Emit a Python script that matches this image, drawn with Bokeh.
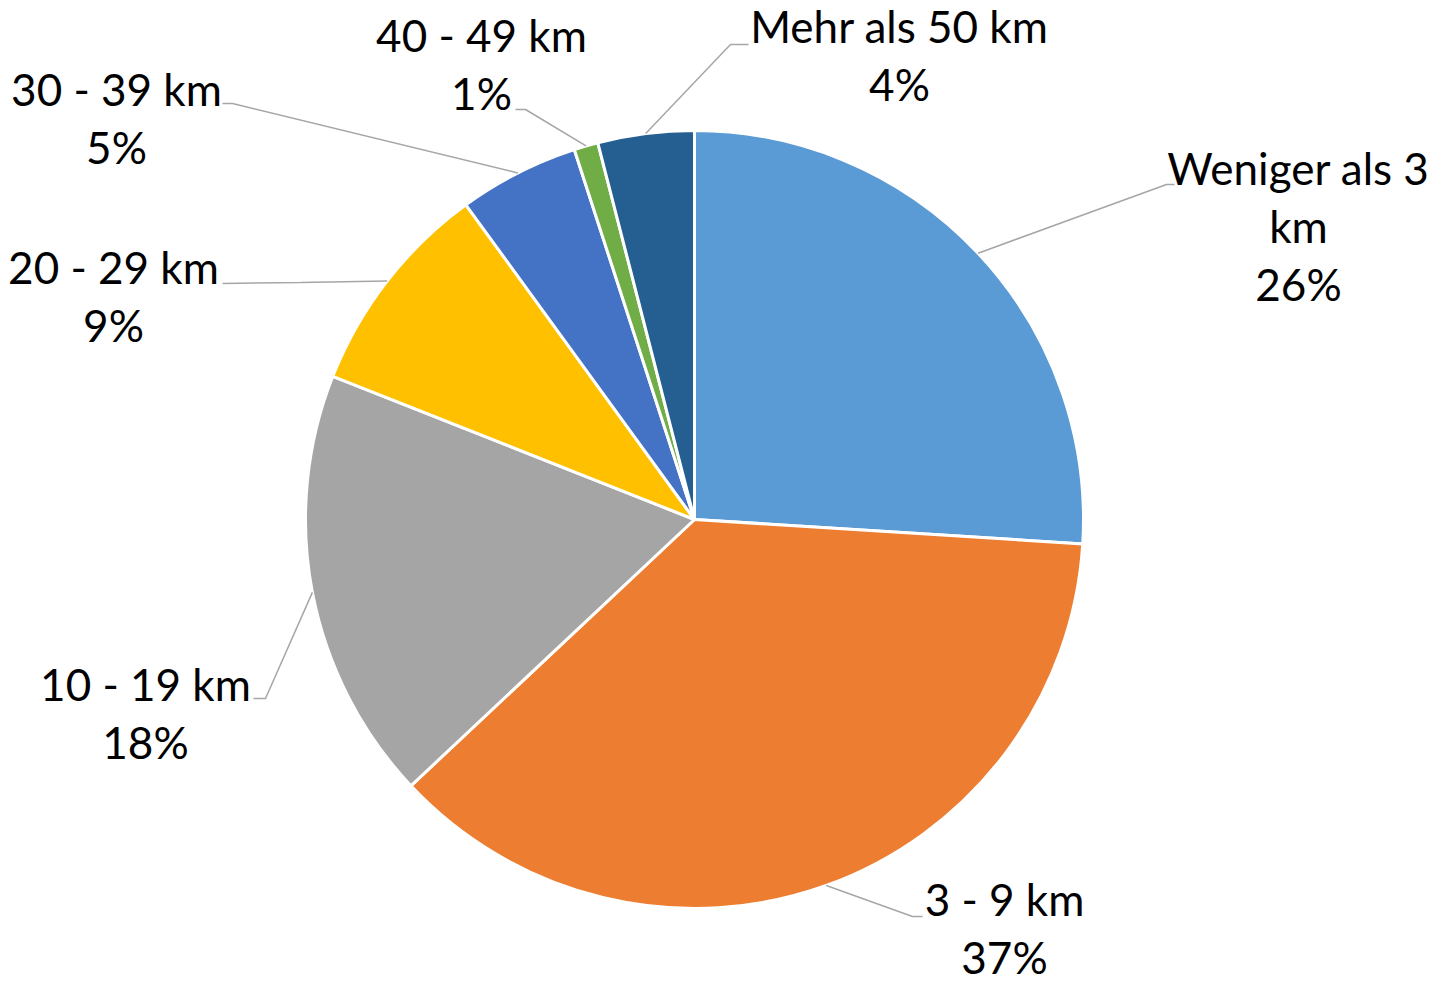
import math
from bokeh.plotting import figure
from bokeh.models import Range1d
from bokeh.embed import file_html
from bokeh.resources import INLINE
from bokeh.core.properties import value

# ---- data ----
categories = ["Weniger als 3 km", "3 - 9 km", "10 - 19 km", "20 - 29 km",
              "30 - 39 km", "40 - 49 km", "Mehr als 50 km"]
shares = [26, 37, 18, 9, 5, 1, 4]
name_lines = [["Weniger als 3", "km"], ["3 - 9 km"], ["10 - 19 km"], ["20 - 29 km"],
              ["30 - 39 km"], ["40 - 49 km"], ["Mehr als 50 km"]]

# ---- style / layout ----
colors = ["#5B9BD5", "#ED7D31", "#A5A5A5", "#FFC000", "#4472C4", "#70AD47", "#255E91"]
W, H = 1429, 984
CX, CY, R = 694, 519, 389          # picture px
FONT = "Lato"
FSIZE = "44px"
LINE_H = 58
# label block: (center x, first-line center y) in picture px
label_pos = [(1298, 167), (1004, 898), (145, 683), (113, 266), (116, 88), (481, 34), (899, 25)]
# leader: elbow point and end point in picture px
leader_pts = [((1166, 184), (1174, 184)),
              ((912, 916), (922, 916)),
              ((265, 698), (253, 698)),
              ((300, 282), (222, 283)),
              ((232, 103), (222, 103)),
              ((525, 109), (515, 109)),
              ((730, 44), (748, 44))]


def dx(sx):
    return sx


def dy(sy):
    return H - sy


p = figure(width=W, height=H, output_backend="svg", toolbar_location=None,
           x_range=Range1d(0, W), y_range=Range1d(0, H), min_border=0)
p.axis.visible = False
p.grid.visible = False
p.outline_line_color = None
p.background_fill_color = "white"

total = float(sum(shares))
cum = 0.0
starts, ends, mids = [], [], []
for s in shares:
    a0 = math.pi / 2 - 2 * math.pi * cum / total
    a1 = math.pi / 2 - 2 * math.pi * (cum + s) / total
    starts.append(a0)
    ends.append(a1)
    mids.append((a0 + a1) / 2)
    cum += s

p.wedge(x=[dx(CX)] * len(shares), y=[dy(CY)] * len(shares), radius=R,
        start_angle=starts, end_angle=ends, direction="clock",
        fill_color=colors, line_color="white", line_width=3)

# leader lines
xs, ys = [], []
for m, (elb, end) in zip(mids, leader_pts):
    x0 = dx(CX) + R * math.cos(m)
    y0 = dy(CY) + R * math.sin(m)
    xs.append([x0, dx(elb[0]), dx(end[0])])
    ys.append([y0, dy(elb[1]), dy(end[1])])
p.multi_line(xs=xs, ys=ys, line_color="#A6A6A6", line_width=1.5)

# labels
tx, ty, tt = [], [], []
for lines, s, (lx, ly) in zip(name_lines, shares, label_pos):
    all_lines = lines + [f"{s}%"]
    for i, t in enumerate(all_lines):
        tx.append(dx(lx))
        ty.append(dy(ly + i * LINE_H))
        tt.append(t)
p.text(x=tx, y=ty, text=tt, text_align="center", text_baseline="middle",
       text_font=value(FONT), text_font_size=FSIZE, text_color="black")

open("out.html", "w").write(file_html(p, INLINE))
